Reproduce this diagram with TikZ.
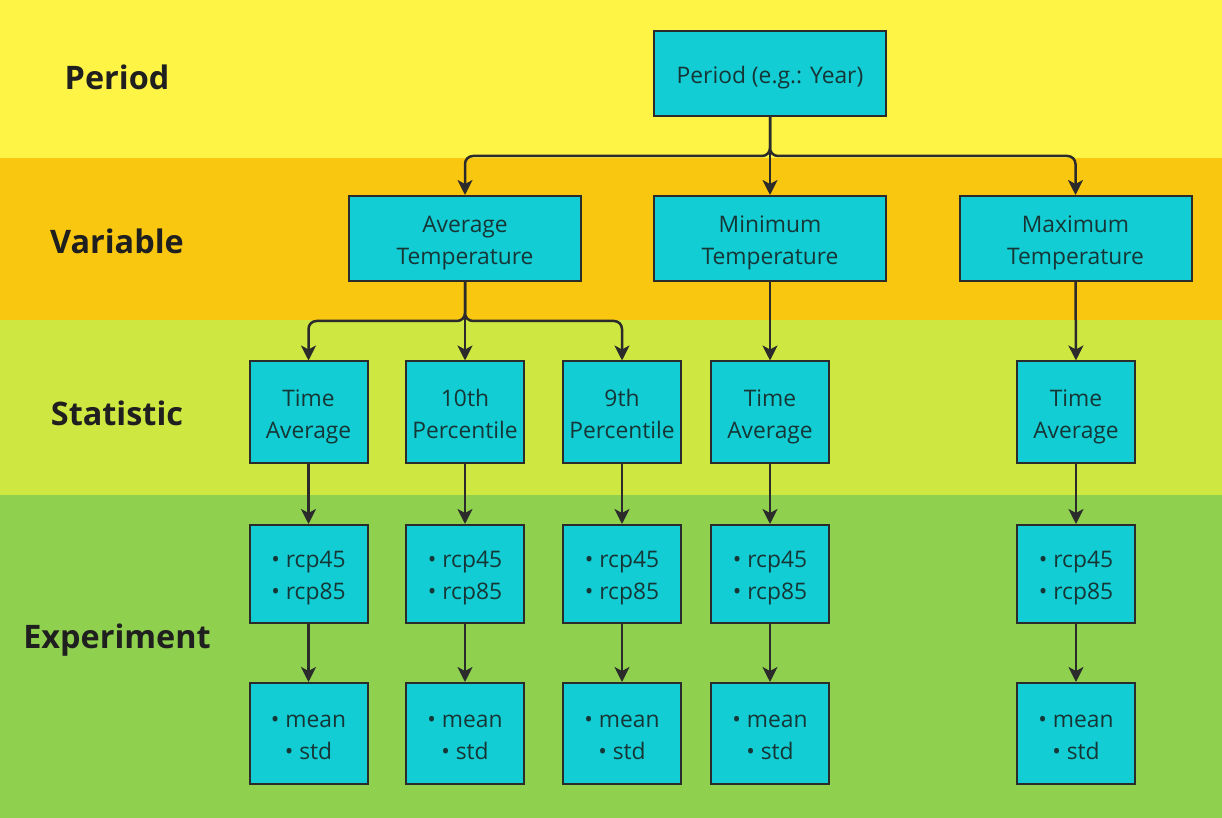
\documentclass[tikz,border=0pt]{standalone}
\usepackage{fontspec}
\setmainfont{Open Sans}
\usetikzlibrary{arrows.meta}
\definecolor{cyel}{HTML}{FEF445}
\definecolor{corg}{HTML}{FAC710}
\definecolor{clgr}{HTML}{CEE741}
\definecolor{cgrn}{HTML}{8FD14F}
\definecolor{ccyan}{HTML}{12CDD4}
\definecolor{cline}{HTML}{2B2B2B}
\definecolor{ctext}{HTML}{163636}
\newcommand{\tstrut}{\rule{0pt}{14.4pt}}
\newcommand{\twol}[2]{\tstrut\strut #1\\\strut #2}
\tikzset{
  box/.style={draw=cline, line width=1pt, fill=ccyan, text=ctext, align=center,
    font=\fontsize{11.4}{16}\selectfont, inner sep=0pt, anchor=center},
  wide/.style={box, minimum width=116pt, minimum height=42.5pt},
  small/.style={box, minimum width=59pt, minimum height=51pt},
  lab/.style={font=\fontsize{16.2}{18}\selectfont\bfseries, text=black!88},
  conn/.style={draw=cline, line width=1.25pt, rounded corners=4pt,
    -{Stealth[length=7.5pt, width=7.5pt, inset=2pt]}},
}
\begin{document}
\begin{tikzpicture}[x=0.5pt, y=-0.5pt]
\fill[cyel] (0,0) rectangle (1222,158);
\fill[corg] (0,158) rectangle (1222,320);
\fill[clgr] (0,320) rectangle (1222,495);
\fill[cgrn] (0,495) rectangle (1222,818);
\useasboundingbox (0,0) rectangle (1222,818);

\node[lab] (lp) at (117,77) {Period};
\node[lab] (lv) at (117,241) {Variable};
\node[lab] (ls) at (117,413) {Statistic};
\node[lab] (le) at (117,640) {Experiment};

\node[wide] (per) at (770,73.5) {\tstrut\strut Period (e.g.: Year)};
\node[wide] (avg) at (465,238.5) {\twol{Average}{Temperature}};
\node[wide] (min) at (770,238.5) {\twol{Minimum}{Temperature}};
\node[wide] (max) at (1075.5,238.5) {\twol{Maximum}{Temperature}};

\node[small] (s1) at (308.5,412.5) {\twol{Time}{Average}};
\node[small] (s2) at (465,412.5) {\twol{10th}{Percentile}};
\node[small] (s3) at (622,412.5) {\twol{9th}{Percentile}};
\node[small] (s4) at (770,412.5) {\twol{Time}{Average}};
\node[small] (s5) at (1076,412.5) {\twol{Time}{Average}};

\foreach \i/\x in {1/308.5,2/465,3/622,4/770,5/1076}{
  \node[small, minimum height=49pt] (r\i) at (\x,574) {\twol{• rcp45}{• rcp85}};
  \node[small, minimum height=50.5pt] (m\i) at (\x,733.5) {\twol{• mean}{• std}};
}

\coordinate (bus1) at (770,156);
\coordinate (bus2) at (465,321);

\draw[conn] (per.south) |- (avg.north |- bus1) -- (avg.north);
\draw[conn] (per.south) -- (min.north);
\draw[conn] (per.south) |- (max.north |- bus1) -- (max.north);

\draw[conn] (avg.south) |- (s1.north |- bus2) -- (s1.north);
\draw[conn] (avg.south) -- (s2.north);
\draw[conn] (avg.south) |- (s3.north |- bus2) -- (s3.north);
\draw[conn] (min.south) -- (s4.north);
\draw[conn] (max.south) -- (s5.north);

\foreach \i in {1,...,5}{
  \draw[conn] (s\i.south) -- (r\i.north);
  \draw[conn] (r\i.south) -- (m\i.north);
}
\end{tikzpicture}
\end{document}
